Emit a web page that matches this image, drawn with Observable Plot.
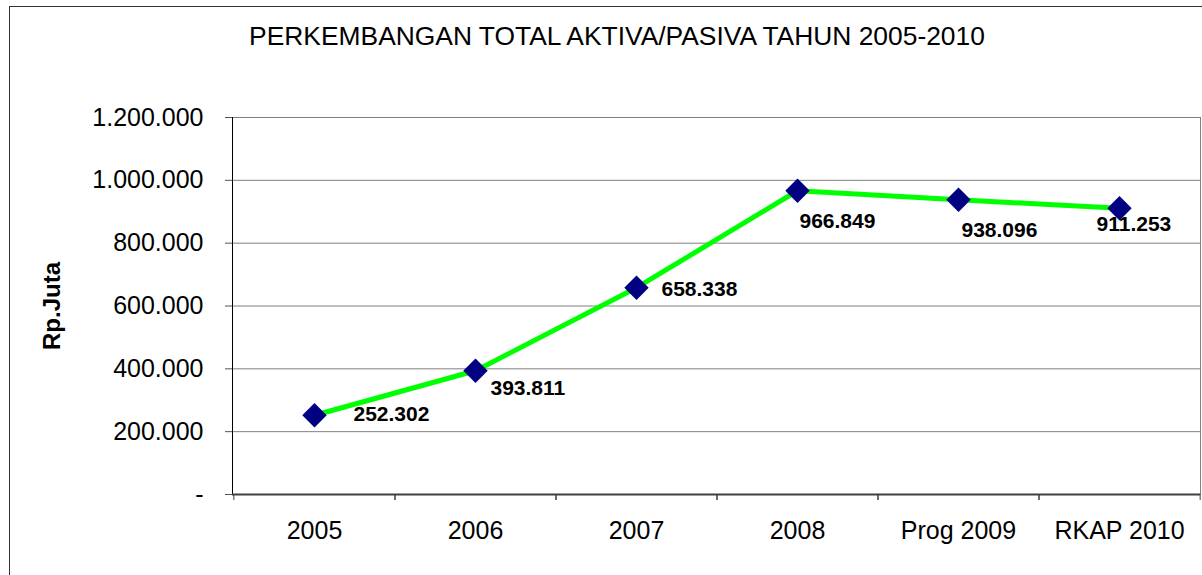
<!DOCTYPE html>
<html><head><meta charset="utf-8">
<script src="https://cdn.jsdelivr.net/npm/d3@7"></script>
<script src="https://cdn.jsdelivr.net/npm/@observablehq/plot@0.6"></script>
<style>
body{margin:0;background:#fff;font-family:"Liberation Sans",Arial,sans-serif}
#wrap{position:relative;width:1202px;height:575px;overflow:hidden;background:#fff}
#border{position:absolute;left:9px;top:6px;width:1300px;height:700px;border:1.5px solid #333;box-sizing:border-box}
#title{position:absolute;left:0;top:22px;width:1234px;text-align:center;font-size:26.4px;line-height:28px;color:#000}
#chart{position:absolute;left:0;top:0}
</style></head>
<body>
<div id="wrap"><div id="border"></div><div id="title">PERKEMBANGAN TOTAL AKTIVA/PASIVA TAHUN 2005-2010</div><div id="chart"></div></div>
<script>
const categories = ["2005", "2006", "2007", "2008", "Prog 2009", "RKAP 2010"];
const values = [252302, 393811, 658338, 966849, 938096, 911253];
const yTicks = [0, 200000, 400000, 600000, 800000, 1000000, 1200000];
const yTickLabels = ["-", "200.000", "400.000", "600.000", "800.000", "1.000.000", "1.200.000"];
const yLabel = "Rp.Juta";

// label placement (style, not data)
const labelOffsets = [[39, -1], [15, 17], [25, 2], [2, 31], [3, 30], [-23, 16]];

const rows = categories.map((c, i) => ({cat: c, value: values[i]}));
const fmt = d3.formatLocale({decimal: ",", thousands: ".", grouping: [3], currency: ["", ""]}).format(",d");

const W = 1202, H = 575, ML = 232, MR = 2, MT = 117, MB = 81;
const step = (W - ML - MR) / categories.length;

const chart = Plot.plot({
  width: W, height: H,
  marginLeft: ML, marginRight: MR, marginTop: MT, marginBottom: MB,
  style: {fontFamily: "'Liberation Sans', Arial, sans-serif", background: "transparent", color: "#000"},
  x: {type: "point", domain: categories, padding: 0.5, align: 0.5},
  y: {domain: [0, 1200000]},
  marks: [
    Plot.gridY(yTicks, {stroke: "#808080", strokeOpacity: 1}),
    Plot.frame({stroke: "#808080"}),
    Plot.frame({anchor: "left", stroke: "#000"}),
    Plot.ruleY([0], {stroke: "#404040", strokeWidth: 2}),
    Plot.axisY(yTicks, {tickFormat: d => yTickLabels[yTicks.indexOf(d)], tickSize: 7, tickPadding: 22, fontSize: 25, stroke: "#555", label: null}),
    Plot.axisX({tickSize: 0, tickPadding: 27, fontSize: 25, label: null}),
    Plot.axisX({tickSize: 6, tickFormat: () => "", dx: -step / 2, stroke: "#404040", label: null}),
    Plot.axisX({tickSize: 6, tickFormat: () => "", dx: step / 2, stroke: "#404040", label: null}),
    Plot.text([yLabel], {frameAnchor: "left", textAnchor: "middle", text: d => d, rotate: -90, dx: -180, fontSize: 24, fontWeight: "bold"}),
    Plot.line(rows, {x: "cat", y: "value", stroke: "#00ff00", strokeWidth: 5}),
    Plot.dot(rows, {x: "cat", y: "value", symbol: "diamond2", r: 11, fill: "#000080", stroke: "none"}),
    ...labelOffsets.map((o, i) => Plot.text([rows[i]], {x: "cat", y: "value", text: d => fmt(d.value), textAnchor: "start", dx: o[0], dy: o[1], fontSize: 21, fontWeight: "bold", fill: "#000"}))
  ]
});
document.getElementById("chart").append(chart);
</script>
</body></html>
